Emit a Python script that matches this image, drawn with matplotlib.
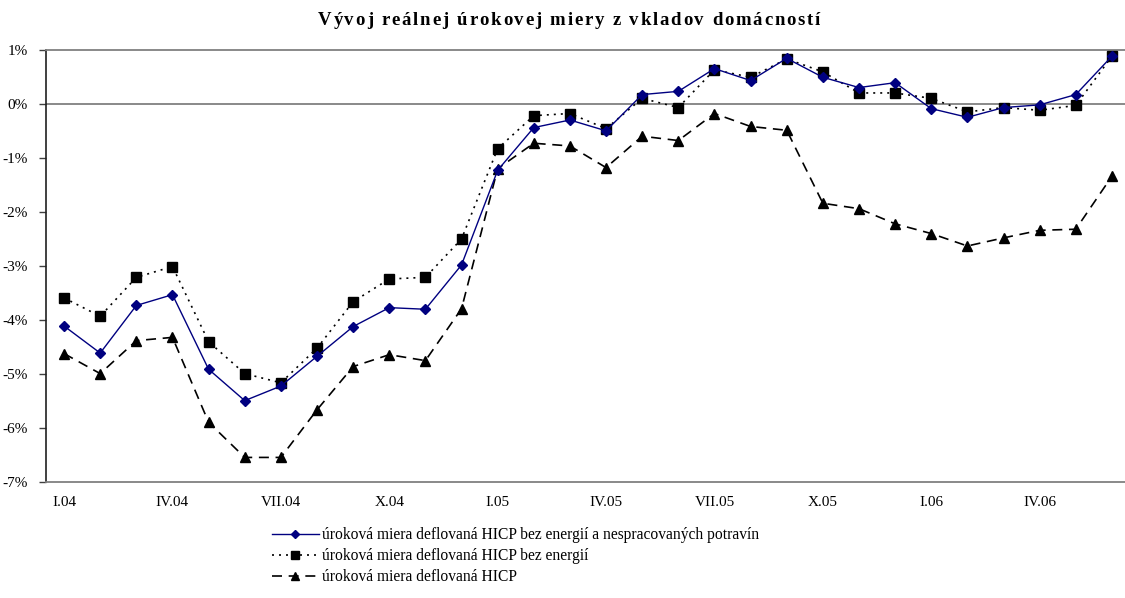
import matplotlib
matplotlib.use("Agg")
import matplotlib.pyplot as plt
from matplotlib.ticker import FuncFormatter
from matplotlib.font_manager import FontProperties

plt.rcParams["font.family"] = ["Liberation Serif", "DejaVu Serif"]

# Monthly periods I.04 .. VI.06
months = ["I", "II", "III", "IV", "V", "VI", "VII", "VIII", "IX", "X", "XI", "XII"]
periods = [f"{m}.{y:02d}" for y in (4, 5, 6) for m in months][:30]
tick_every = 3

# Real interest rate on household deposits (%)
core_hicp = [-4.11, -4.61, -3.73, -3.53, -4.91, -5.49, -5.22, -4.67, -4.12, -3.77,
             -3.80, -2.98, -1.23, -0.44, -0.30, -0.50, 0.17, 0.23, 0.65, 0.43,
             0.84, 0.49, 0.30, 0.39, -0.09, -0.25, -0.07, -0.02, 0.17, 0.88]
hicp_ex_energy = [-3.59, -3.93, -3.21, -3.01, -4.40, -4.99, -5.16, -4.52, -3.66, -3.24,
                  -3.21, -2.50, -0.83, -0.22, -0.18, -0.46, 0.10, -0.07, 0.63, 0.49,
                  0.83, 0.59, 0.20, 0.20, 0.10, -0.15, -0.07, -0.12, -0.03, 0.88]
hicp = [-4.62, -4.99, -4.38, -4.32, -5.89, -6.54, -6.54, -5.66, -4.86, -4.64,
        -4.75, -3.79, -1.20, -0.73, -0.78, -1.18, -0.60, -0.68, -0.18, -0.42,
        -0.49, -1.84, -1.94, -2.22, -2.40, -2.63, -2.48, -2.34, -2.32, -1.34]

labels = [
    "úroková miera deflovaná HICP bez energií a nespracovaných potravín",
    "úroková miera deflovaná HICP bez energií",
    "úroková miera deflovaná HICP",
]
title = "Vývoj reálnej úrokovej miery z vkladov domácností"

W, H = 1125, 598
fig = plt.figure(figsize=(W / 100, H / 100), dpi=100)
x0, x1 = 46, 1130
ytop, ybot = 49.7, 482.3
ax = fig.add_axes([x0 / W, (H - ybot) / H, (x1 - x0) / W, (ybot - ytop) / H])

x = list(range(len(periods)))
ax.plot(x, core_hicp, color="#000080", lw=1.0, marker="D", ms=5,
        mfc="#000080", mec="#000080", label=labels[0], zorder=4)
ax.plot(x, hicp_ex_energy, color="black", lw=1.2, ls=(0, (1.2, 3)), marker="s", ms=7,
        label=labels[1], zorder=3)
ax.plot(x, hicp, color="black", lw=1.2, ls=(0, (6, 4)), marker="^", ms=7,
        label=labels[2], zorder=3)

ax.set_xlim(-0.5, len(periods) - 0.5)
ax.set_ylim(-7, 1)
ax.axhline(0, color="#808080", lw=1.3, zorder=1)

ax.set_yticks(range(-7, 2))
ax.yaxis.set_major_formatter(FuncFormatter(lambda v, p: f"{int(v)}%"))
ax.set_xticks(x[::tick_every])
ax.set_xticklabels(periods[::tick_every])
ax.tick_params(axis="y", length=5, width=1, color="#404040", pad=8, labelsize=11)
ax.tick_params(axis="x", length=0, pad=10, labelsize=11)

for side in ("top", "bottom"):
    ax.spines[side].set_color("#808080")
    ax.spines[side].set_linewidth(1.3)
ax.spines["left"].set_color("#202020")
ax.spines["left"].set_linewidth(1.2)
ax.spines["right"].set_visible(False)

# Letter-spaced bold title, laid out one glyph at a time
renderer = fig.canvas.get_renderer()
tprop = FontProperties(family="Liberation Serif", weight="bold", size=13.5)
widths = [renderer.get_text_width_height_descent(c, tprop, ismath=False)[0] for c in title]
span_left, span_right = 318, 820
gap = (span_right - span_left - sum(widths)) / (len(title) - 1)
cx = span_left
for c, w in zip(title, widths):
    fig.text(cx / W, 1 - 25 / H, c, ha="left", va="baseline", fontproperties=tprop)
    cx += w + gap

leg = fig.legend(loc="upper left", bbox_to_anchor=(272 / W, 1 - 527 / H),
                 frameon=False, fontsize=11.2, handlelength=3.0, handletextpad=0.2,
                 labelspacing=0.33, numpoints=1, borderaxespad=0, borderpad=0,
                 markerscale=0.8)

fig.savefig("out.png", dpi=100)
